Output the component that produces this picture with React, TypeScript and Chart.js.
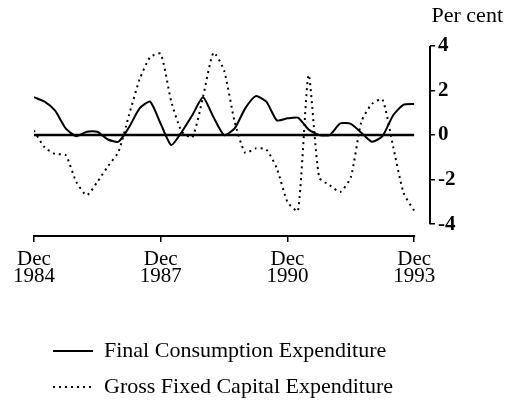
import React, { useEffect, useRef } from "react";
import { Chart, registerables } from "chart.js";

Chart.register(...registerables);

// Quarterly observations, Dec 1984 .. Dec 1993
const QUARTERS = [
  "Dec 1984", "Mar 1985", "Jun 1985", "Sep 1985", "Dec 1985",
  "Mar 1986", "Jun 1986", "Sep 1986", "Dec 1986",
  "Mar 1987", "Jun 1987", "Sep 1987", "Dec 1987",
  "Mar 1988", "Jun 1988", "Sep 1988", "Dec 1988",
  "Mar 1989", "Jun 1989", "Sep 1989", "Dec 1989",
  "Mar 1990", "Jun 1990", "Sep 1990", "Dec 1990",
  "Mar 1991", "Jun 1991", "Sep 1991", "Dec 1991",
  "Mar 1992", "Jun 1992", "Sep 1992", "Dec 1992",
  "Mar 1993", "Jun 1993", "Sep 1993", "Dec 1993",
];

const FINAL_CONSUMPTION = [
  1.7, 1.5, 1.1, 0.3, -0.05, 0.15, 0.15, -0.2, -0.3,
  0.35, 1.2, 1.5, 0.5, -0.45, 0.15, 0.9, 1.7,
  0.8, 0.0, 0.3, 1.2, 1.75, 1.5, 0.66, 0.75,
  0.78, 0.25, 0.0, 0.0, 0.52, 0.5, 0.1, -0.3,
  -0.05, 0.88, 1.37, 1.4,
];

const GROSS_FIXED_CAPITAL = [
  0.2, -0.55, -0.85, -0.9, -2.1, -2.7, -2.1, -1.4, -0.75,
  0.9, 2.5, 3.5, 3.65, 1.5, 0.15, -0.1, 1.7,
  3.7, 2.9, 0.6, -0.8, -0.6, -0.65, -1.5, -3.0,
  -3.4, 2.7, -1.9, -2.25, -2.55, -1.9, 0.6, 1.4,
  1.6, -0.5, -2.6, -3.4,
];

const TICK_QUARTERS = ["Dec 1984", "Dec 1987", "Dec 1990", "Dec 1993"];
const TICK_MONTHS = ["Dec", "Dec", "Dec", "Dec"];
const TICK_YEARS = ["1984", "1987", "1990", "1993"];
const Y_TICKS = [-4, -2, 0, 2, 4];

const SERIF = "'Liberation Serif', 'Times New Roman', serif";

const tickIndex = TICK_QUARTERS.map((q) => QUARTERS.indexOf(q));

const axisLines = {
  id: "axisLines",
  afterLayout(chart: any) {
    const lg = chart.legend;
    if (lg) {
      lg.left += 5;
      lg.right += 5;
    }
  },
  afterDatasetsDraw(chart: any) {
    const { ctx, scales } = chart;
    const x = scales.x;
    const y = scales.y;
    ctx.save();
    ctx.strokeStyle = "#000";
    ctx.lineWidth = 2;
    ctx.lineCap = "butt";
    ctx.beginPath();
    ctx.moveTo(x.getPixelForValue(tickIndex[0]) - 1, x.top);
    ctx.lineTo(x.getPixelForValue(tickIndex[tickIndex.length - 1]) + 1, x.top);
    ctx.stroke();
    ctx.beginPath();
    ctx.moveTo(y.left, y.getPixelForValue(Y_TICKS[Y_TICKS.length - 1]));
    ctx.lineTo(y.left, y.getPixelForValue(Y_TICKS[0]));
    ctx.stroke();
    ctx.restore();
  },
};

export default function App() {
  const ref = useRef<HTMLCanvasElement | null>(null);

  useEffect(() => {
    if (!ref.current) return;
    const chart = new Chart(ref.current, {
      type: "line",
      data: {
        datasets: [
          {
            label: "Final Consumption Expenditure",
            data: FINAL_CONSUMPTION.map((v, i) => ({ x: i, y: v })),
            borderColor: "#000",
            backgroundColor: "#000",
            borderWidth: 2,
            pointRadius: 0,
            tension: 0.2,
            fill: false,
          },
          {
            label: "Gross Fixed Capital Expenditure",
            data: GROSS_FIXED_CAPITAL.map((v, i) => ({ x: i, y: v })),
            borderColor: "#000",
            backgroundColor: "#000",
            borderWidth: 2,
            borderDash: [2, 4],
            pointRadius: 0,
            tension: 0.2,
            fill: false,
          },
          {
            label: "zero",
            data: [
              { x: 0, y: 0 },
              { x: QUARTERS.length - 1, y: 0 },
            ],
            borderColor: "#000",
            borderWidth: 2.5,
            pointRadius: 0,
            fill: false,
          },
        ],
      },
      options: {
        animation: false,
        responsive: false,
        events: [],
        layout: { padding: { left: 34, right: 2, top: 0, bottom: 0 } },
        scales: {
          x: {
            type: "linear",
            min: 0,
            max: 37.5,
            afterBuildTicks: (s: any) => {
              s.ticks = tickIndex.map((v) => ({ value: v }));
            },
            afterFit: (s: any) => {
              s.height = 90;
            },
            border: { display: false },
            grid: {
              drawOnChartArea: false,
              drawTicks: true,
              tickLength: 6,
              color: "#000",
              lineWidth: 1.5,
            },
            ticks: {
              autoSkip: false,
              maxRotation: 0,
              padding: 9,
              color: "#000",
              font: { family: SERIF, size: 21, lineHeight: 0.8 },
              callback: (v: any) => {
                const i = tickIndex.indexOf(Number(v));
                return i >= 0 ? [TICK_MONTHS[i], TICK_YEARS[i]] : "";
              },
            },
          },
          y: {
            position: "right",
            min: -4.533,
            max: 4,
            afterBuildTicks: (s: any) => {
              s.ticks = Y_TICKS.map((v) => ({ value: v }));
            },
            afterFit: (s: any) => {
              s.width = 73;
            },
            border: { display: false },
            grid: {
              drawOnChartArea: false,
              drawTicks: true,
              tickLength: 5,
              color: "#000",
              lineWidth: 1.5,
            },
            ticks: {
              padding: 3,
              color: "#000",
              font: { family: SERIF, size: 21, weight: "bold" },
              callback: (v: any) => String(v),
            },
          },
        },
        plugins: {
          legend: {
            position: "bottom",
            align: "start",
            labels: {
              filter: (item: any) => item.datasetIndex !== 2,
              generateLabels: (c: any) => {
                const items = (Chart.defaults as any).plugins.legend.labels.generateLabels(c);
                return items.map((it: any) => {
                  const ds = c.data.datasets[it.datasetIndex];
                  return {
                    ...it,
                    lineDash: ds.borderDash || [],
                    lineWidth: ds.borderWidth,
                    strokeStyle: ds.borderColor,
                    pointStyle: "line",
                  };
                });
              },
              usePointStyle: true,
              pointStyle: "line",
              pointStyleWidth: 40,
              padding: 14,
              color: "#000",
              font: { family: SERIF, size: 22 },
            },
          },
          title: {
            display: true,
            text: "Per cent",
            align: "end",
            color: "#000",
            font: { family: SERIF, size: 22, weight: "normal" },
            padding: { top: 3, bottom: 16.6 },
          },
          tooltip: { enabled: false },
        },
      },
      plugins: [axisLines],
    } as any);
    return () => chart.destroy();
  }, []);

  return (
    <div
      style={{
        position: "fixed",
        left: 0,
        top: 0,
        width: 505,
        height: 408,
        background: "#fff",
      }}
    >
      <canvas ref={ref} width={505} height={408} style={{ display: "block" }} />
    </div>
  );
}
